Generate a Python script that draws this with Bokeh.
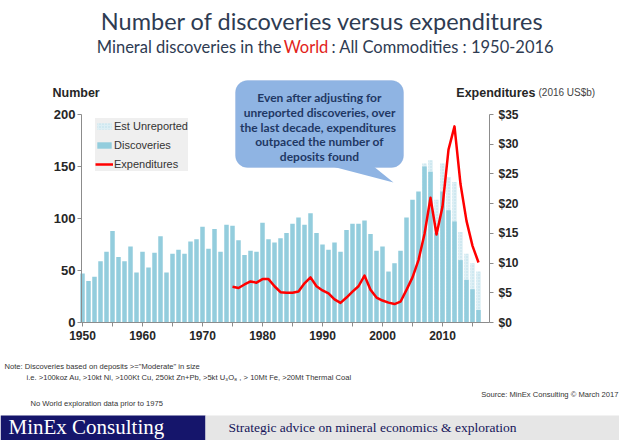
from bokeh.plotting import figure
from bokeh.models import (Range1d, LinearAxis, FixedTicker, NumeralTickFormatter,
                          Legend, LegendItem, Label, BoxAnnotation, PolyAnnotation)
from bokeh.embed import file_html
from bokeh.resources import INLINE

# ---------------- data ----------------
years = list(range(1950, 2017))
discoveries = [47, 40, 44, 59, 68, 88, 63, 59, 73, 48,
               68, 53, 67, 83, 48, 66, 70, 66, 78, 80,
               92, 71, 90, 68, 94, 93, 79, 65, 69, 68,
               96, 80, 77, 81, 86, 95, 101, 94, 105, 86,
               75, 70, 77, 68, 89, 95, 95, 98, 85, 69,
               73, 49, 57, 69, 101, 118, 126, 150, 145, 86,
               126, 108, 97, 60, 41, 32, 12]

est_years = list(range(2007, 2017))
est_total = [153, 156, 118, 153, 140, 135, 87, 66, 57, 49]

exp_years = list(range(1975, 2017))
expenditures = [6.0, 5.8, 6.4, 6.9, 6.7, 7.3, 7.3, 6.1, 5.1, 5.0,
                5.0, 5.2, 6.6, 7.6, 6.1, 5.4, 4.9, 3.9, 3.3, 4.2,
                5.2, 6.1, 7.9, 5.5, 4.2, 3.7, 3.35, 3.1, 3.5, 5.5,
                7.6, 10.5, 14.9, 21.0, 14.8, 19.5, 29.1, 33.0, 23.3, 17.1,
                12.9, 10.1]

left_ticks = [0, 50, 100, 150, 200]
right_ticks = [0, 5, 10, 15, 20, 25, 30, 35]
x_ticks = [1950, 1960, 1970, 1980, 1990, 2000, 2010]
x_minor = [1955, 1965, 1975, 1985, 1995, 2005, 2015]

# ---------------- geometry (page pixels) ----------------
W, H = 619, 440
X_LEFT, X_RIGHT = 1949.83, 2017.83       # plot-area year bounds
PX_PER_YEAR = 6.0
PX0_YEAR = 82.0                          # page x of 1950 bar centre
Y0_PAGE, Y200_PAGE = 322.0, 114.0        # page y of 0 and 200
sc_left = (Y0_PAGE - Y200_PAGE) / 200.0
sc_right = (Y0_PAGE - Y200_PAGE) / 35.0

x_start = 1950 - PX0_YEAR / PX_PER_YEAR
x_end = x_start + W / PX_PER_YEAR

p = figure(width=W, height=H, output_backend="svg", toolbar_location=None,
           x_range=Range1d(x_start, x_end),
           y_range=Range1d(-(H - Y0_PAGE) / sc_left, Y0_PAGE / sc_left),
           min_border=0, min_border_left=0, min_border_right=0,
           min_border_top=0, min_border_bottom=0)
p.outline_line_color = None
p.grid.visible = False
p.background_fill_color = "white"
p.border_fill_color = "white"

p.extra_y_ranges = {"exp": Range1d(-(H - Y0_PAGE) / sc_right, Y0_PAGE / sc_right)}

r_est = p.vbar(x=est_years, top=est_total, width=0.75, fill_color="#ddeff5",
               line_color=None, hatch_pattern="dot", hatch_color="#b9dde8",
               hatch_scale=3, hatch_weight=1)
r_disc = p.vbar(x=years, top=discoveries, width=0.75, fill_color="#93cddd",
                line_color=None)
r_exp = p.line(exp_years, expenditures, y_range_name="exp", line_color="#ff0000",
               line_width=2.5, line_join="round")

AX_COL = "#8c8c8c"
LBL_COL = "#262626"

xa = p.xaxis[0]
xa.ticker = FixedTicker(ticks=x_ticks, minor_ticks=x_minor)
xa.fixed_location = 0
xa.bounds = (X_LEFT, X_RIGHT)
ya = p.yaxis[0]
ya.ticker = FixedTicker(ticks=left_ticks)
ya.fixed_location = X_LEFT
ya.bounds = (0, 200)

ra = LinearAxis(y_range_name="exp", ticker=FixedTicker(ticks=right_ticks),
                formatter=NumeralTickFormatter(format="$0"),
                fixed_location=X_RIGHT, bounds=(0, 35))
p.add_layout(ra, "right")

for ax in (xa, ya, ra):
    ax.axis_line_color = AX_COL
    ax.major_tick_line_color = AX_COL
    ax.minor_tick_line_color = AX_COL
    ax.major_tick_in = 0
    ax.major_tick_out = 4
    ax.minor_tick_in = 0
    ax.minor_tick_out = 4
    ax.major_label_text_font = "Liberation Sans"
    ax.major_label_text_font_style = "bold"
    ax.major_label_text_color = LBL_COL
    ax.major_label_text_font_size = "12px"
ya.minor_tick_line_color = None
ra.minor_tick_line_color = None
ya.major_label_text_font_size = "13px"
ya.major_label_standoff = 2
ra.major_label_standoff = 5
xa.major_label_standoff = 4

legend = Legend(items=[LegendItem(label="Est Unreported", renderers=[r_est]),
                       LegendItem(label="Discoveries", renderers=[r_disc]),
                       LegendItem(label="Expenditures", renderers=[r_exp])],
                location=(95, H - 171), glyph_width=18, glyph_height=8,
                label_height=15, label_standoff=1, spacing=4, padding=4, margin=0,
                background_fill_color="#efefef", background_fill_alpha=1,
                border_line_color=None, label_text_font="Liberation Sans",
                label_text_font_size="11px", label_text_color="#333333")
p.add_layout(legend)


def box(l, t, r, b, color, radius=0, line=None):
    p.add_layout(BoxAnnotation(left=l, right=r, top=H - t, bottom=H - b,
                               left_units="screen", right_units="screen",
                               top_units="screen", bottom_units="screen",
                               fill_color=color, fill_alpha=1, line_color=line,
                               border_radius=radius, level="annotation"))


def lab(text, px, py, size, color="#222222", font="Liberation Sans", style="normal",
        align="left"):
    p.add_layout(Label(x=px, y=H - py, x_units="screen", y_units="screen",
                       text=text, text_font=font, text_font_size=f"{size}px",
                       text_font_style=style, text_color=color, text_align=align,
                       text_baseline="middle"))


# callout
box(235, 80, 403, 167, "#8fb4e3", radius=12, line="#84aadb")
p.add_layout(PolyAnnotation(xs=[328, 393, 372], ys=[H - 165, H - 182, H - 165],
                            xs_units="screen", ys_units="screen",
                            fill_color="#8fb4e3", fill_alpha=1, line_color=None))
callout = ["Even after adjusting for", "unreported discoveries, over",
           "the  last decade, expenditures", "outpaced the number of", "deposits found"]
for i, t in enumerate(callout):
    lab(t, 319, 97 + i * 14.8, 12, color="#1f3864", font="Lato", style="bold",
        align="center")

# titles
TCOL = "#2e3b52"
lab("Number of discoveries versus expenditures", 322, 20, 23.5, color=TCOL,
    font="Lato", align="center")
lab("Mineral discoveries in the", 281, 46, 16.5, color=TCOL, font="Lato", align="right")
lab("World", 305.5, 46, 16.5, color="#e2231a", font="Lato", align="center")
lab(": All Commodities : 1950-2016", 331, 46, 16.5, color=TCOL, font="Lato")

lab("Number", 52, 92, 12.5, color=LBL_COL, style="bold")
lab("Expenditures", 535, 92, 12.5, color=LBL_COL, style="bold", align="right")
lab("(2016 US$b)", 538, 92, 10, color="#444444")

# footer notes
NCOL = "#333333"
NFONT = "Liberation Sans"
lab('Note: Discoveries based on deposits >="Moderate"  in size', 4, 366, 7.6,
    color=NCOL, font=NFONT)
lab("i.e. >100koz Au, >10kt Ni, >100Kt Cu, 250kt Zn+Pb, >5kt U\u2083O\u2088 , > 10Mt Fe, >20Mt Thermal Coal",
    26, 377, 7.6, color=NCOL, font=NFONT)
lab("Source: MinEx Consulting \u00a9 March 2017", 618, 394, 7.6, color=NCOL,
    font=NFONT, align="right")
lab("No World exploration data prior to 1975", 30, 403, 7.6, color=NCOL, font=NFONT)

# footer band
box(0, 415, 205, 440, "#15156b")
box(205, 415, 619, 440, "#e6e6e6")
lab("MinEx Consulting", 8, 426.5, 21, color="white", font="Liberation Serif")
lab("Strategic advice on mineral economics & exploration", 228, 427, 13.5,
    color="#15155a", font="Liberation Serif")

open("out.html", "w").write(file_html(p, INLINE))
